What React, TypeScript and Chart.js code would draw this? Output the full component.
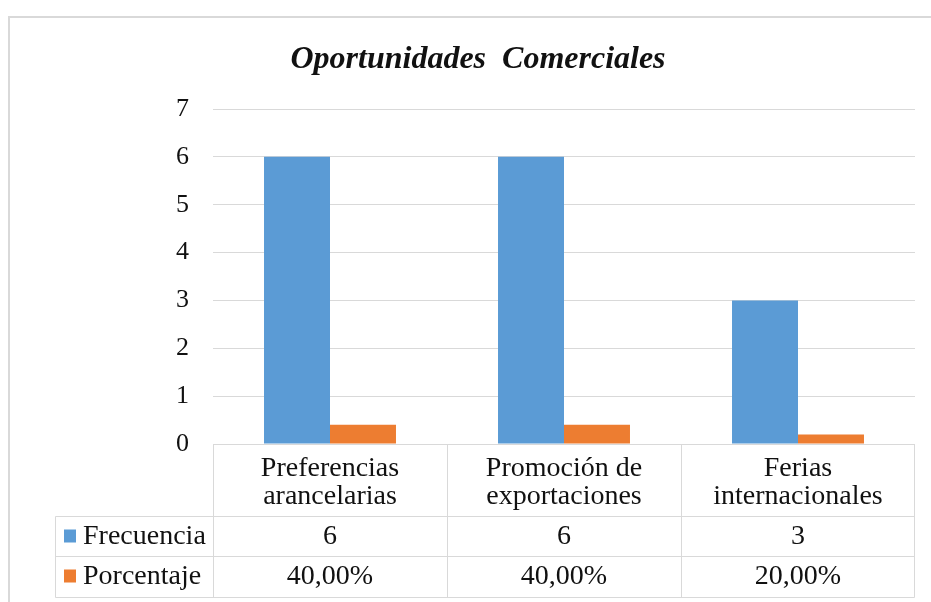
import React, { useEffect, useRef } from "react";
import { Chart, registerables } from "chart.js";

Chart.register(...registerables);

const TITLE = "Oportunidades  Comerciales";
const categoryLines = [
  ["Preferencias", "arancelarias"],
  ["Promoción de", "exportaciones"],
  ["Ferias", "internacionales"],
];
const seriesNames = ["Frecuencia", "Porcentaje"];
const frecuencia = [6, 6, 3];
const porcentaje = [0.4, 0.4, 0.2];
const porcentajeLabels = ["40,00%", "40,00%", "20,00%"];
const yMin = 0;
const yMax = 7;
const yStep = 1;
const seriesColors = ["#5B9BD5", "#ED7D31"];

const FONT = '"Liberation Serif", "Times New Roman", serif';
const LINE = "#d9d9d9";
const TEXT = "#111111";

const framePlugin = {
  id: "frameAndTitle",
  beforeDraw(chart: any) {
    const ctx = chart.ctx;
    ctx.save();
    ctx.fillStyle = "#ffffff";
    ctx.fillRect(0, 0, chart.width, chart.height);
    ctx.strokeStyle = LINE;
    ctx.lineWidth = 2;
    ctx.beginPath();
    ctx.moveTo(9, chart.height);
    ctx.lineTo(9, 17);
    ctx.lineTo(chart.width, 17);
    ctx.stroke();
    ctx.fillStyle = TEXT;
    ctx.font = `bold italic 32px ${FONT}`;
    ctx.textAlign = "center";
    ctx.textBaseline = "alphabetic";
    ctx.fillText(TITLE, 478, 68);
    ctx.restore();
  },
};

const tablePlugin = {
  id: "dataTable",
  afterDraw(chart: any) {
    const ctx = chart.ctx;
    const area = chart.chartArea;
    const xs = chart.scales.x;
    const n = categoryLines.length;
    const colW = (area.right - area.left) / n;
    const top = Math.round(area.bottom) + 0.5;
    const r1 = top + 72;
    const r2 = r1 + 40;
    const r3 = r2 + 41;
    const left = 55.5;
    const right = Math.round(area.right) - 0.5;

    ctx.save();
    ctx.strokeStyle = LINE;
    ctx.lineWidth = 1;
    ctx.beginPath();
    ctx.moveTo(area.left, top);
    ctx.lineTo(right, top);
    for (const y of [r1, r2, r3]) {
      ctx.moveTo(left, y);
      ctx.lineTo(right, y);
    }
    ctx.moveTo(left, r1);
    ctx.lineTo(left, r3);
    for (let i = 0; i <= n; i++) {
      const x = i === n ? right : Math.round(area.left + i * colW) + 0.5;
      ctx.moveTo(x, top);
      ctx.lineTo(x, r3);
    }
    ctx.stroke();

    ctx.fillStyle = TEXT;
    ctx.font = `28px ${FONT}`;
    ctx.textBaseline = "alphabetic";
    ctx.textAlign = "center";
    for (let i = 0; i < n; i++) {
      const cx = xs.getPixelForValue(i);
      categoryLines[i].forEach((t, k) => ctx.fillText(t, cx, top + 31 + k * 28));
      ctx.fillText(String(frecuencia[i]), cx, r1 + 27);
      ctx.fillText(porcentajeLabels[i], cx, r2 + 27);
    }
    const rows = [r1, r2];
    rows.forEach((ry, k) => {
      ctx.fillStyle = seriesColors[k];
      ctx.fillRect(64, ry + 13, 12, 13);
      ctx.fillStyle = TEXT;
      ctx.textAlign = "left";
      ctx.fillText(seriesNames[k], 83, ry + 27);
    });
    ctx.restore();
  },
};

export default function App() {
  const ref = useRef<HTMLCanvasElement>(null);
  useEffect(() => {
    if (!ref.current) return;
    const chart = new Chart(ref.current, {
      type: "bar",
      data: {
        labels: categoryLines.map((l) => l.join(" ")),
        datasets: [
          { label: seriesNames[0], data: frecuencia, backgroundColor: seriesColors[0] },
          { label: seriesNames[1], data: porcentaje, backgroundColor: seriesColors[1] },
        ],
      },
      options: {
        animation: false,
        responsive: false,
        devicePixelRatio: 1,
        layout: { padding: { left: 0, top: 109, right: 16, bottom: 158 } },
        datasets: { bar: { categoryPercentage: 0.564, barPercentage: 1 } },
        plugins: {
          legend: { display: false },
          title: { display: false },
          tooltip: { enabled: false },
        },
        scales: {
          x: { display: false },
          y: {
            min: yMin,
            max: yMax,
            ticks: {
              stepSize: yStep,
              padding: 24,
              color: TEXT,
              font: { family: FONT, size: 26 },
            },
            grid: { color: LINE, lineWidth: 1, drawTicks: false },
            border: { display: false },
            afterFit: (scale: any) => {
              scale.width = 213;
            },
          },
        },
      },
      plugins: [framePlugin, tablePlugin],
    });
    return () => chart.destroy();
  }, []);
  return (
    <div style={{ position: "absolute", left: 0, top: 0, width: 931, height: 602 }}>
      <canvas ref={ref} width={931} height={602} />
    </div>
  );
}
